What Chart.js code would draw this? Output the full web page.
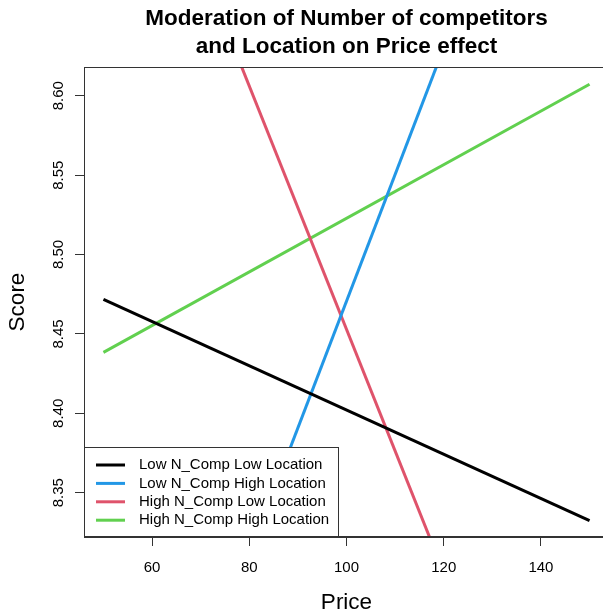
<!DOCTYPE html>
<html>
<head>
<meta charset="utf-8">
<script src="https://cdn.jsdelivr.net/npm/chart.js@4.4.0/dist/chart.umd.min.js"></script>
<style>
    html, body { margin: 0; padding: 0; overflow: hidden; background: #fff; }
    #wrap { width: 609px; height: 614px; }
</style>
</head>
<body>
<div id="wrap"><canvas id="moderationChart" width="609" height="614"></canvas></div>
<script>
// values (line ends at Price 50 and 150)
let price = [50, 150];
let lowCompLowLoc = [8.4718, 8.3324];
let lowCompHighLoc = [8.0716, 8.8696];
let highCompLowLoc = [8.8359, 8.0699];
let highCompHighLoc = [8.4384, 8.6072];

let seriesNames = ["Low N_Comp Low Location", "Low N_Comp High Location",
    "High N_Comp Low Location", "High N_Comp High Location"];
let seriesColors = ["#000000", "#2297E6", "#DF536B", "#61D04F"];

let xTicks = [60, 80, 100, 120, 140];
let yTicks = [8.35, 8.40, 8.45, 8.50, 8.55, 8.60];
let titleLines = ["Moderation of Number of competitors", "and Location on Price effect"];

const FONT = "'Liberation Sans', Arial, Helvetica, sans-serif";
Chart.defaults.font.family = FONT;
Chart.defaults.color = "#000";

function points(values) {
    return values.map((v, i) => ({ x: price[i], y: v }));
}

let allSeries = [lowCompLowLoc, lowCompHighLoc, highCompLowLoc, highCompHighLoc];

// frame, rotated y labels, title and the boxed legend, R style
const rStylePlugin = {
    id: "rStyle",
    afterDraw(chart) {
        let ctx = chart.ctx;
        let area = chart.chartArea;
        let yScale = chart.scales.y;

        ctx.save();
        ctx.strokeStyle = "#333";
        ctx.lineWidth = 1;
        ctx.strokeRect(area.left + 0.5, area.top + 0.5, area.right - area.left - 1, area.bottom - area.top - 1);

        // y tick labels, turned like base R
        ctx.fillStyle = "#000";
        ctx.font = "15px " + FONT;
        ctx.textAlign = "center";
        ctx.textBaseline = "middle";
        yTicks.forEach(t => {
            let py = yScale.getPixelForValue(t);
            ctx.save();
            ctx.translate(59, py);
            ctx.rotate(-Math.PI / 2);
            ctx.fillText(t.toFixed(2), 0, 0);
            ctx.restore();
        });

        // main title
        ctx.font = "bold 22.5px " + FONT;
        let cx = (area.left + area.right) / 2;
        ctx.fillText(titleLines[0], cx, 19);
        ctx.fillText(titleLines[1], cx, 47);

        // legend in the bottom left corner
        let boxL = area.left, boxR = 339, boxT = 447, boxB = area.bottom;
        ctx.fillStyle = "#fff";
        ctx.fillRect(boxL, boxT, boxR - boxL, boxB - boxT);
        ctx.strokeStyle = "#333";
        ctx.strokeRect(boxL + 0.5, boxT + 0.5, boxR - boxL - 1, boxB - boxT - 1);
        ctx.font = "15px " + FONT;
        ctx.textAlign = "left";
        chart.data.datasets.forEach((ds, i) => {
            let rowY = 465 + i * 18.4;
            ctx.strokeStyle = ds.borderColor;
            ctx.lineWidth = 3;
            ctx.beginPath();
            ctx.moveTo(96, rowY);
            ctx.lineTo(125, rowY);
            ctx.stroke();
            ctx.fillStyle = "#000";
            ctx.fillText(ds.label, 139, rowY);
        });
        ctx.restore();
    }
};

window.onload = function() {
    let ctx = document.getElementById("moderationChart").getContext("2d");

    new Chart(ctx, {
        type: "line",
        data: {
            datasets: allSeries.map((vals, i) => ({
                label: seriesNames[i],
                data: points(vals),
                borderColor: seriesColors[i],
                borderWidth: 3,
                pointRadius: 0,
                fill: false,
                clip: 0
            }))
        },
        options: {
            responsive: false,
            animation: false,
            devicePixelRatio: 1,
            layout: { padding: { top: 67, left: 0, right: 0, bottom: 0 } },
            plugins: {
                legend: { display: false },
                tooltip: { enabled: false }
            },
            scales: {
                x: {
                    type: "linear",
                    min: 46,
                    max: 154,
                    afterBuildTicks: s => { s.ticks = xTicks.map(v => ({ value: v })); },
                    afterFit: s => { s.height = 77; },
                    grid: { drawOnChartArea: false, drawTicks: true, tickLength: 9, color: "#333" },
                    border: { display: true, color: "#333" },
                    ticks: { font: { size: 15 }, padding: 13, maxRotation: 0, color: "#000" },
                    title: {
                        display: true,
                        text: "Price",
                        font: { size: 22.5, lineHeight: 1 },
                        padding: { top: 0, bottom: 0 },
                        color: "#000"
                    }
                },
                y: {
                    min: 8.3221,
                    max: 8.6181,
                    afterBuildTicks: s => { s.ticks = yTicks.map(v => ({ value: v })); },
                    afterFit: s => { s.width = 84; },
                    grid: { drawOnChartArea: false, drawTicks: true, tickLength: 9, color: "#333" },
                    border: { display: true, color: "#333" },
                    ticks: { display: false },
                    title: {
                        display: true,
                        text: "Score",
                        font: { size: 22.5, lineHeight: 1 },
                        padding: { top: 7, bottom: 0 },
                        color: "#000"
                    }
                }
            }
        },
        plugins: [rStylePlugin]
    });
};
</script>
</body>
</html>
